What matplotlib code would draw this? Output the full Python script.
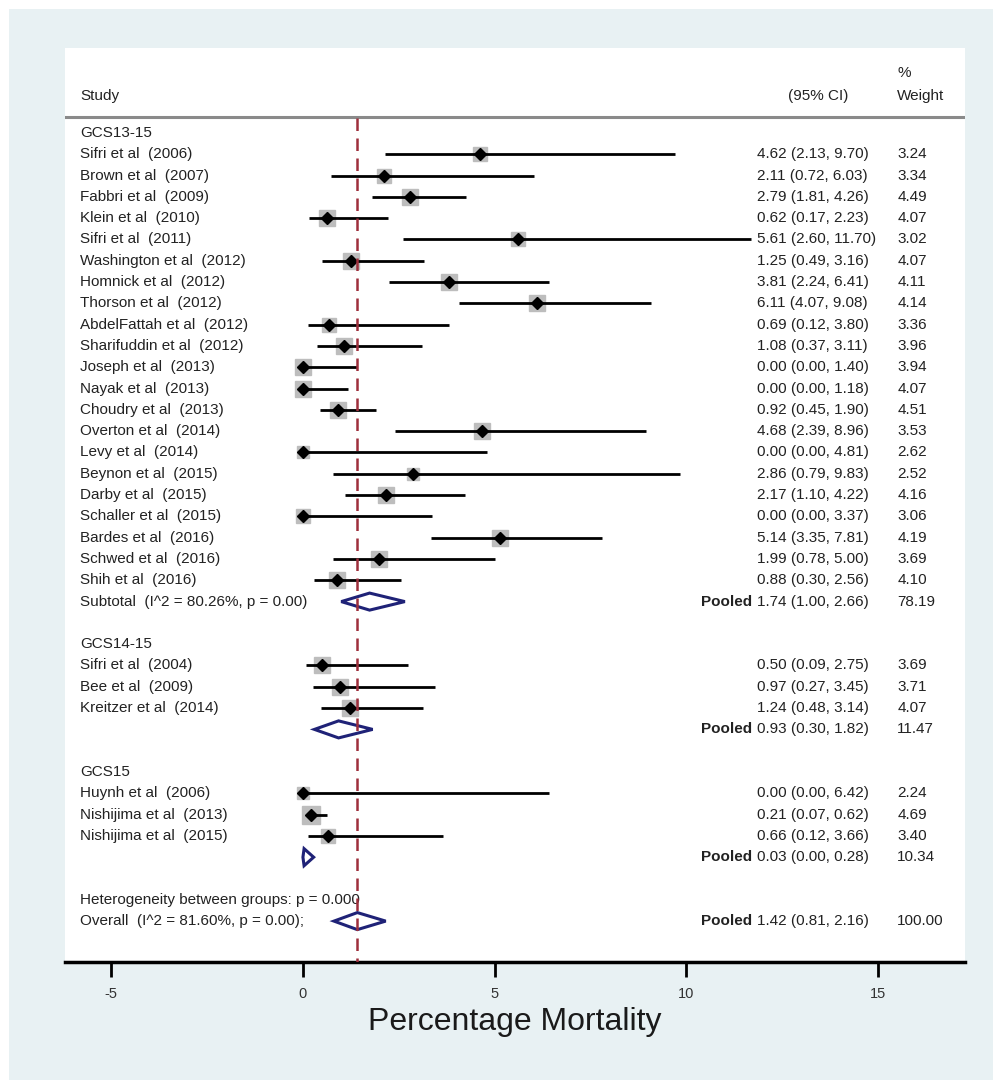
import matplotlib
matplotlib.use('Agg')
from matplotlib import pyplot as plt
from matplotlib.patches import Polygon, Rectangle
import numpy as np

plt.rcParams['font.family'] = ['Liberation Sans', 'DejaVu Sans']

# study rows per subgroup: name, estimate, lower, upper, weight
g1_names = ['Sifri et al  (2006)', 'Brown et al  (2007)', 'Fabbri et al  (2009)', 'Klein et al  (2010)',
            'Sifri et al  (2011)', 'Washington et al  (2012)', 'Homnick et al  (2012)', 'Thorson et al  (2012)',
            'AbdelFattah et al  (2012)', 'Sharifuddin et al  (2012)', 'Joseph et al  (2013)', 'Nayak et al  (2013)',
            'Choudry et al  (2013)', 'Overton et al  (2014)', 'Levy et al  (2014)', 'Beynon et al  (2015)',
            'Darby et al  (2015)', 'Schaller et al  (2015)', 'Bardes et al  (2016)', 'Schwed et al  (2016)',
            'Shih et al  (2016)']
g1_est = [4.62, 2.11, 2.79, 0.62, 5.61, 1.25, 3.81, 6.11, 0.69, 1.08, 0.00, 0.00, 0.92, 4.68, 0.00, 2.86,
          2.17, 0.00, 5.14, 1.99, 0.88]
g1_lo = [2.13, 0.72, 1.81, 0.17, 2.60, 0.49, 2.24, 4.07, 0.12, 0.37, 0.00, 0.00, 0.45, 2.39, 0.00, 0.79,
         1.10, 0.00, 3.35, 0.78, 0.30]
g1_hi = [9.70, 6.03, 4.26, 2.23, 11.70, 3.16, 6.41, 9.08, 3.80, 3.11, 1.40, 1.18, 1.90, 8.96, 4.81, 9.83,
         4.22, 3.37, 7.81, 5.00, 2.56]
g1_w = [3.24, 3.34, 4.49, 4.07, 3.02, 4.07, 4.11, 4.14, 3.36, 3.96, 3.94, 4.07, 4.51, 3.53, 2.62, 2.52,
        4.16, 3.06, 4.19, 3.69, 4.10]

g2_names = ['Sifri et al  (2004)', 'Bee et al  (2009)', 'Kreitzer et al  (2014)']
g2_est = [0.50, 0.97, 1.24]
g2_lo = [0.09, 0.27, 0.48]
g2_hi = [2.75, 3.45, 3.14]
g2_w = [3.69, 3.71, 4.07]

g3_names = ['Huynh et al  (2006)', 'Nishijima et al  (2013)', 'Nishijima et al  (2015)']
g3_est = [0.00, 0.21, 0.66]
g3_lo = [0.00, 0.07, 0.12]
g3_hi = [6.42, 0.62, 3.66]
g3_w = [2.24, 4.69, 3.40]

group_labels = ['GCS13-15', 'GCS14-15', 'GCS15']
pooled_est = [1.74, 0.93, 0.03]
pooled_lo = [1.00, 0.30, 0.00]
pooled_hi = [2.66, 1.82, 0.28]
pooled_w = [78.19, 11.47, 10.34]
subtotal_labels = ['Subtotal  (I^2 = 80.26%, p = 0.00)', '', '']

overall_est, overall_lo, overall_hi, overall_w = 1.42, 0.81, 2.16, 100.00
overall_label = 'Overall  (I^2 = 81.60%, p = 0.00);'
het_label = 'Heterogeneity between groups: p = 0.000'

groups = [(g1_names, g1_est, g1_lo, g1_hi, g1_w),
          (g2_names, g2_est, g2_lo, g2_hi, g2_w),
          (g3_names, g3_est, g3_lo, g3_hi, g3_w)]

txt_col = '#222222'
navy = '#1f2277'
fs = 11

fig = plt.figure(figsize=(9.93, 10.8), dpi=100, facecolor='white')
bg = Rectangle((9 / 993, 0), 1, 1 - 9 / 1080, transform=fig.transFigure,
               facecolor='#e8f1f3', edgecolor='none', zorder=-10)
fig.add_artist(bg)
ax = fig.add_axes([65 / 993, 1 - 962 / 1080, 900 / 993, 914 / 1080])
ax.set_facecolor('white')
ax.set_xlim(-6.21, 17.28)
ax.set_ylim(38.92, -3.99)

x_lab, x_ci, x_w = -5.82, 11.85, 15.51


def diamond(y, est, lo, hi):
    h = 0.4
    ax.add_patch(Polygon([[lo, y], [est, y - h], [hi, y], [est, y + h]], closed=True,
                         facecolor='white', edgecolor=navy, linewidth=2.2, zorder=4))


row = 0
for gi, (names, est, lo, hi, w) in enumerate(groups):
    ax.text(x_lab, row, group_labels[gi], fontsize=fs, color=txt_col, va='center')
    row += 1
    for n, e, l, h, wt in zip(names, est, lo, hi, w):
        ax.plot([l, h], [row, row], color='black', lw=2, zorder=3, solid_capstyle='butt')
        # box area proportional to weight
        side = 8 * np.sqrt(wt) * 0.72
        ax.plot(e, row, marker='s', ms=side, color='#bdbdbd', mec='#bdbdbd', zorder=2)
        ax.plot(e, row, marker='D', ms=6, color='black', zorder=4)
        ax.text(x_lab, row, n, fontsize=fs, color=txt_col, va='center')
        ax.text(x_ci, row, '%.2f (%.2f, %.2f)' % (e, l, h), fontsize=fs, color=txt_col, va='center')
        ax.text(x_w, row, '%.2f' % wt, fontsize=fs, color=txt_col, va='center')
        row += 1
    diamond(row, pooled_est[gi], pooled_lo[gi], pooled_hi[gi])
    if subtotal_labels[gi]:
        ax.text(x_lab, row, subtotal_labels[gi], fontsize=fs, color=txt_col, va='center')
    ax.text(11.72, row, 'Pooled', fontsize=fs, color=txt_col, va='center', ha='right', fontweight='bold')
    ax.text(x_ci, row, '%.2f (%.2f, %.2f)' % (pooled_est[gi], pooled_lo[gi], pooled_hi[gi]),
            fontsize=fs, color=txt_col, va='center')
    ax.text(x_w, row, '%.2f' % pooled_w[gi], fontsize=fs, color=txt_col, va='center')
    row += 2

ax.text(x_lab, row, het_label, fontsize=fs, color=txt_col, va='center')
row += 1
diamond(row, overall_est, overall_lo, overall_hi)
ax.text(x_lab, row, overall_label, fontsize=fs, color=txt_col, va='center')
ax.text(11.72, row, 'Pooled', fontsize=fs, color=txt_col, va='center', ha='right', fontweight='bold')
ax.text(x_ci, row, '%.2f (%.2f, %.2f)' % (overall_est, overall_lo, overall_hi),
        fontsize=fs, color=txt_col, va='center')
ax.text(x_w, row, '%.2f' % overall_w, fontsize=fs, color=txt_col, va='center')

# overall effect reference line
ax.plot([overall_est, overall_est], [-0.7, 38.92], color='#9e2f3c', lw=1.8, ls=(0, (5, 3)), zorder=5)

# header
ax.text(x_lab, -1.74, 'Study', fontsize=fs, color=txt_col, va='center')
ax.text(12.67, -1.74, '(95% CI)', fontsize=fs, color=txt_col, va='center')
ax.text(x_w, -1.74, 'Weight', fontsize=fs, color=txt_col, va='center')
ax.text(x_w, -2.82, '%', fontsize=fs, color=txt_col, va='center')
ax.axhline(-0.75, color='#8a8a8a', lw=2.2)

for s in ['top', 'right', 'left']:
    ax.spines[s].set_visible(False)
ax.spines['bottom'].set_linewidth(2.5)
ax.set_yticks([])
ax.set_xticks([-5, 0, 5, 10, 15])
ax.set_xticklabels(['-5', '0', '5', '10', '15'])
ax.tick_params(axis='x', length=11, width=2, pad=7, labelsize=10.5, labelcolor='#333333')
ax.set_xlabel('Percentage Mortality', fontsize=23, color='#1a1a1a', labelpad=4)

fig.savefig('out.png', dpi=100, facecolor=fig.get_facecolor())
